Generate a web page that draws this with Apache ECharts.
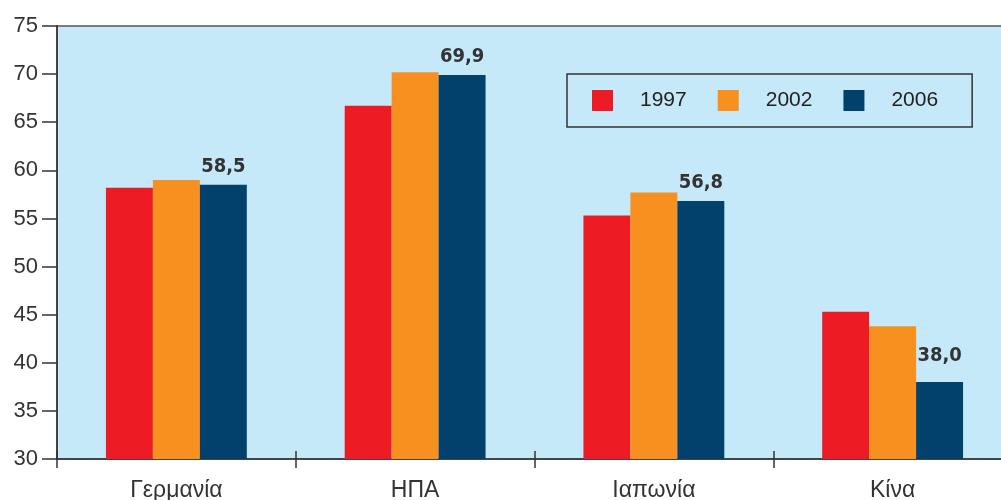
<!DOCTYPE html>
<html>
<head>
<meta charset="utf-8">
<script src="https://cdn.jsdelivr.net/npm/echarts@6/dist/echarts.min.js"></script>
<style>
  html, body { margin: 0; padding: 0; background: #ffffff; }
  #chart { width: 1001px; height: 500px; }
</style>
</head>
<body>
<div id="chart"></div>
<script>
// Countries and yearly values
const countries = ['Γερμανία', 'ΗΠΑ', 'Ιαπωνία', 'Κίνα'];
const years = ['1997', '2002', '2006'];
const values1997 = [58.2, 66.7, 55.3, 45.3];
const values2002 = [59.0, 70.2, 57.7, 43.8];
const values2006 = [58.5, 69.9, 56.8, 38.0];
const yTicks = { min: 30, max: 75, step: 5 };

const colors = ['#ed1c24', '#f7901e', '#02416c'];
const font = 'Liberation Sans, Arial, Helvetica, sans-serif';

const chart = echarts.init(document.getElementById('chart'));

function barSeries(name, values, color, withLabels) {
  return {
    name: name,
    type: 'bar',
    barGap: 0,
    barCategoryGap: '41%',
    itemStyle: { color: color },
    data: values.map((v, i) => {
      const item = { value: v };
      if (withLabels && countries[i] === 'Κίνα') {
        item.label = { distance: 16 };
      }
      return item;
    }),
    label: withLabels ? {
      show: true,
      position: 'top',
      distance: 8,
      color: '#333333',
      fontFamily: 'DejaVu Sans Condensed, Liberation Sans Narrow, sans-serif',
      fontWeight: 'bold',
      fontSize: 20,
      formatter: p => p.value.toFixed(1).replace('.', ',')
    } : { show: false }
  };
}

chart.setOption({
  animation: false,
  textStyle: { fontFamily: font },
  grid: {
    left: 57, top: 26, width: 955, height: 433,
    outerBoundsMode: 'none',
    show: true,
    backgroundColor: '#c6e9fa',
    borderColor: '#555555',
    borderWidth: 1.5
  },
  legend: {
    data: years,
    left: 567, top: 74,
    orient: 'horizontal',
    icon: 'rect',
    itemWidth: 21, itemHeight: 21,
    itemGap: 31,
    padding: [16, 34, 16, 25],
    borderColor: '#333333',
    borderWidth: 1.5,
    textStyle: {
      fontFamily: font, fontSize: 21, color: '#222222',
      lineHeight: 21, padding: [0, 0, 0, 22]
    }
  },
  xAxis: [
    {
      type: 'category',
      data: countries,
      position: 'bottom',
      axisLine: { lineStyle: { color: '#444444', width: 2 } },
      axisTick: { show: true, length: 9, lineStyle: { color: '#333333', width: 1.5 } },
      axisLabel: { color: '#333333', fontSize: 23, margin: 20, fontFamily: font }
    },
    {
      // upward half of the category tick marks
      type: 'category',
      data: countries,
      min: 0, max: countries.length - 1,
      position: 'bottom',
      axisLine: { show: false },
      axisTick: { show: true, inside: true, length: 8, lineStyle: { color: '#333333', width: 1.5 } },
      axisLabel: { show: false }
    }
  ],
  yAxis: {
    type: 'value',
    min: yTicks.min, max: yTicks.max, interval: yTicks.step,
    axisLine: { show: true, lineStyle: { color: '#444444', width: 2 } },
    axisTick: { show: true, length: 15, lineStyle: { color: '#333333', width: 1.5 } },
    axisLabel: { color: '#333333', fontSize: 22, margin: 19, fontFamily: font },
    splitLine: { show: false }
  },
  series: [
    barSeries(years[0], values1997, colors[0], false),
    barSeries(years[1], values2002, colors[1], false),
    barSeries(years[2], values2006, colors[2], true)
  ]
});
</script>
</body>
</html>
